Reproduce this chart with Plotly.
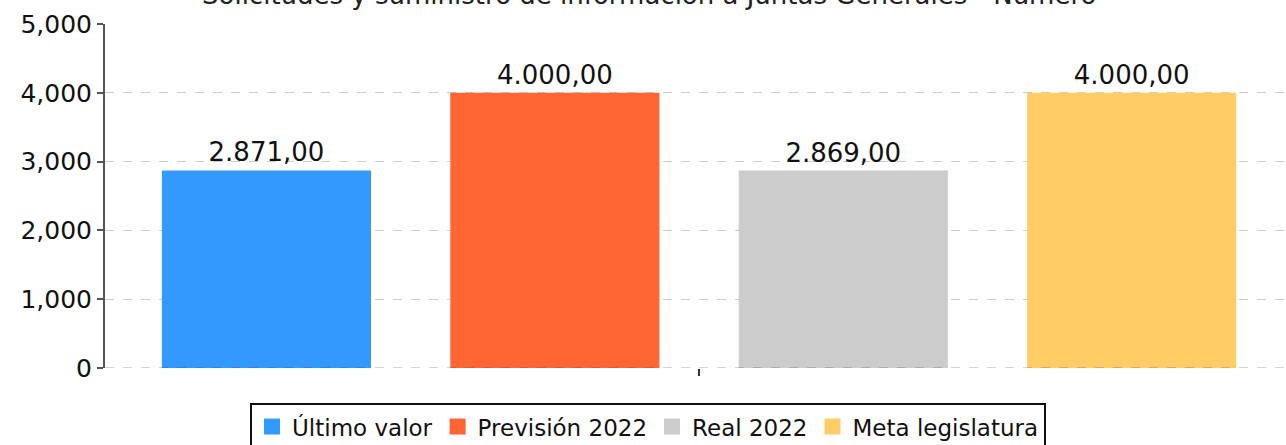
import plotly.graph_objects as go

# chart data
category = ["Número"]
series_names = ["Último valor", "Previsión 2022", "Real 2022", "Meta legislatura"]
series_values = [2871, 4000, 2869, 4000]
series_colors = ["#3399FF", "#FF6633", "#CCCCCC", "#FFCC66"]
y_ticks = [0, 1000, 2000, 3000, 4000, 5000]
title_text = "Solicitudes y suministro de información a Juntas Generales - Número"


def es_format(v):
    # spanish number format: 2.871,00
    s = f"{v:,.2f}"
    return s.replace(",", "#").replace(".", ",").replace("#", ".")


fig = go.Figure()

# the bars
for name, val, col in zip(series_names, series_values, series_colors):
    fig.add_trace(
        go.Bar(x=category, y=[val],
               name=name,
               marker_color=col,
               marker_line_width=0,
               text=[es_format(val)],
               textposition="outside",
               textfont=dict(size=26, color="#111111"),
               cliponaxis=False,
               showlegend=False)
    )

# legend proxies (bigger squares than the default bar symbol)
for name, col in zip(series_names, series_colors):
    fig.add_trace(
        go.Scatter(x=[None], y=[None], name=name, mode="markers",
                   marker=dict(symbol="square", size=22, color=col),
                   showlegend=True)
    )

# dashed baseline
fig.add_shape(type="line", xref="paper", yref="y", x0=0, x1=1, y0=0, y1=0,
              line=dict(color="#444444", width=1.5, dash="dash"), layer="above")

fig.add_annotation(text=title_text, xref="paper", yref="paper",
                   x=0.4606, y=1.084, xanchor="center", yanchor="middle",
                   showarrow=False, font=dict(size=26, color="#222222"))

fig.update_layout(
    template="simple_white",
    width=1286, height=445,
    margin=dict(l=105, r=0, t=24, b=77, autoexpand=False),
    font=dict(family="DejaVu Sans", color="#111111"),
    barmode="group",
    bargap=0.029,
    bargroupgap=0.275,
    plot_bgcolor="white",
    paper_bgcolor="white",
    showlegend=True,
    legend=dict(orientation="h", x=0.4598, xanchor="center", y=-0.102, yanchor="top",
                bordercolor="#111111", borderwidth=2,
                font=dict(size=23), itemsizing="trace",
                itemwidth=30, tracegroupgap=0),
)

# plot area runs a few px past the right edge in the original
fig.update_xaxes(range=[-0.5, 0.494], showline=False, showticklabels=False,
                 ticks="outside", ticklen=7, tickcolor="#333333", tickwidth=1.5,
                 showgrid=False, automargin=False)
fig.update_yaxes(range=[0, 5000], tickvals=y_ticks, tickformat=",d",
                 showline=True, linecolor="#555555", linewidth=2,
                 ticks="outside", ticklen=6, tickcolor="#555555", tickwidth=1.5,
                 tickfont=dict(size=25), automargin=False,
                 showgrid=True, gridcolor="#CCCCCC", griddash="dash", gridwidth=1,
                 zeroline=False)

# drop the default 8px body margin so the chart sits at the window corner
fig.write_html("out.html", config={"displayModeBar": False},
               post_script="document.body.style.margin='0';")
